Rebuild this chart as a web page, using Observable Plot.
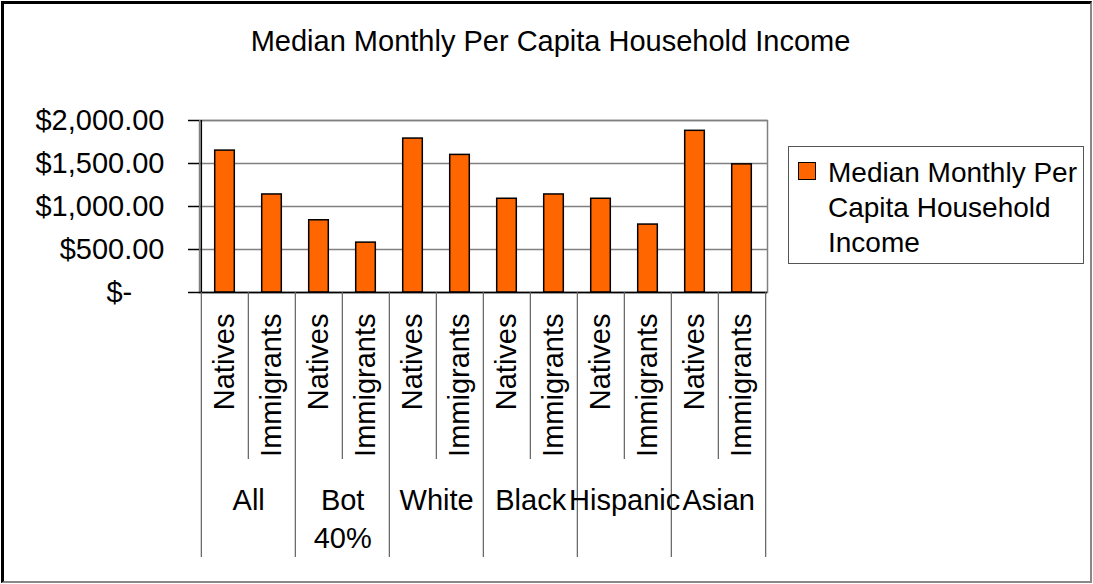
<!DOCTYPE html>
<html><head><meta charset="utf-8">
<script src="https://cdn.jsdelivr.net/npm/d3@7"></script>
<script src="https://cdn.jsdelivr.net/npm/@observablehq/plot@0.6"></script>
<style>
html,body{margin:0;padding:0;background:#fff;}
#chart{position:relative;width:1093px;height:584px;overflow:hidden;font-family:"Liberation Sans",Arial,sans-serif;color:#000;}
#chart svg{position:absolute;left:0;top:0;}
#border{position:absolute;left:1px;top:1px;width:1091px;height:582px;box-sizing:border-box;border-top:3px solid #000;border-left:3px solid #000;border-right:2px solid #888;border-bottom:2px solid #888;pointer-events:none;}
#title{position:absolute;left:4px;width:1093px;top:27px;text-align:center;font-size:29px;line-height:29px;white-space:nowrap;}
#legend{position:absolute;left:788px;top:146px;width:296px;height:118px;box-sizing:border-box;border:1px solid #555;background:#fff;}
#swatch{position:absolute;left:9px;top:15px;width:18px;height:18px;box-sizing:border-box;border:1.5px solid #000;background:#ff6600;}
#legendText{position:absolute;left:39px;top:8px;width:254px;font-size:28px;line-height:35px;}
</style>
</head><body>
<div id="chart"></div>
<script>
const title = "Median Monthly Per Capita Household Income";
const seriesName = "Median Monthly Per Capita Household Income";
const groups = ["All", "Bot 40%", "White", "Black", "Hispanic", "Asian"];
const subgroups = ["Natives", "Immigrants"];
const natives = [1650, 840, 1790, 1090, 1090, 1880];
const immigrants = [1140, 580, 1600, 1140, 790, 1490];
const yTicks = [0, 500, 1000, 1500, 2000];

const data = groups.flatMap((g, i) => [
  {key: g + "|" + subgroups[0], group: g, sub: subgroups[0], value: natives[i]},
  {key: g + "|" + subgroups[1], group: g, sub: subgroups[1], value: immigrants[i]}
]);
const keys = data.map(d => d.key);
const W = 1093, H = 584, mL = 199, mR = 326, mT = 120, mB = 292;
const bw = (W - mL - mR) / keys.length;
const frameH = H - mT - mB;
const fmt = d => d === 0 ? "$-\u2007\u2007" : "$" + d3.format(",.2f")(d);

const plot = Plot.plot({
  width: W, height: H,
  marginLeft: mL, marginRight: mR, marginTop: mT, marginBottom: mB,
  style: {fontFamily: "'Liberation Sans', Arial, sans-serif", fontSize: "29px", background: "transparent", overflow: "visible", color: "#000"},
  x: {domain: keys, padding: 0, axis: null},
  y: {domain: [0, 2000], axis: null},
  marks: [
    Plot.gridY(yTicks, {stroke: "#808080", strokeOpacity: 1, strokeWidth: 1.5}),
    Plot.frame({stroke: "#808080", strokeWidth: 1.5}),
    Plot.barY(data, {x: "key", y: "value", fill: "#ff6600", stroke: "#000", strokeWidth: 1.5, insetLeft: 13.7, insetRight: 13.7}),
    Plot.axisY({ticks: yTicks, tickFormat: fmt, tickSize: 11, tickPadding: 24, fontSize: 29, stroke: "#000", strokeWidth: 1.5, label: null}),
    Plot.ruleY([0], {stroke: "#000", strokeWidth: 1.5}),
    Plot.ruleX([keys[0]], {dx: -bw / 2, stroke: "#000", strokeWidth: 1.5}),
    // separators between subgroups
    Plot.ruleX(data.filter(d => d.sub === subgroups[1]), {x: "key", dx: -bw / 2, stroke: "#606060", strokeWidth: 1.2, insetTop: frameH, insetBottom: -167}),
    // separators between groups
    Plot.ruleX(data.filter(d => d.sub === subgroups[0]), {x: "key", dx: -bw / 2, stroke: "#606060", strokeWidth: 1.2, insetTop: frameH, insetBottom: -265}),
    Plot.ruleX([keys[keys.length - 1]], {dx: bw / 2, stroke: "#606060", strokeWidth: 1.2, insetTop: frameH, insetBottom: -265}),
    // subgroup labels
    Plot.text(data, {x: "key", text: "sub", frameAnchor: "bottom", rotate: -90, textAnchor: "end", lineAnchor: "middle", dy: 21, fontSize: 29, fill: "#000"}),
    // group labels
    Plot.text(data.filter(d => d.sub === subgroups[0]), {x: "key", text: d => d.group.replace(" ", "\n"), frameAnchor: "bottom", lineAnchor: "top", dx: bw / 2, dy: 190.5, lineHeight: 1.32, fontSize: 29, fill: "#000"})
  ]
});

const chart = document.getElementById("chart");
chart.appendChild(plot);
const t = document.createElement("div"); t.id = "title"; t.textContent = title; chart.appendChild(t);
const lg = document.createElement("div"); lg.id = "legend";
const sw = document.createElement("div"); sw.id = "swatch"; lg.appendChild(sw);
const lt = document.createElement("div"); lt.id = "legendText"; lt.textContent = seriesName; lg.appendChild(lt);
chart.appendChild(lg);
const b = document.createElement("div"); b.id = "border"; chart.appendChild(b);
</script>
</body></html>
